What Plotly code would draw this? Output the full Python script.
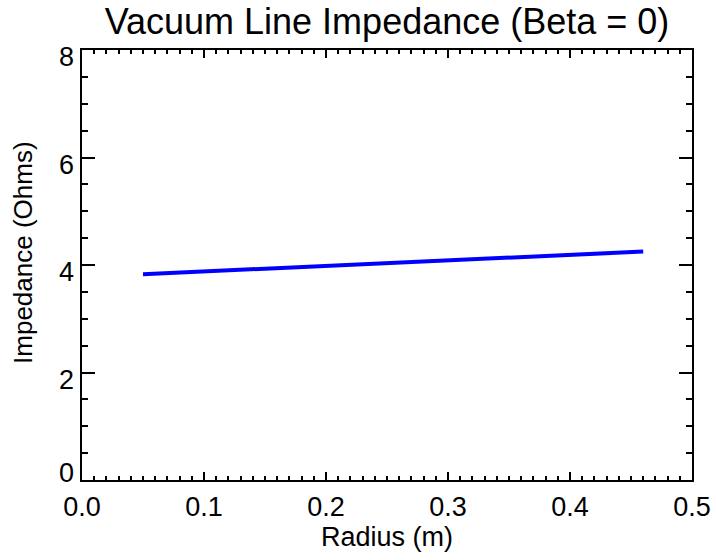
import plotly.graph_objects as go

radius = [0.05, 0.46]
impedance = [3.83, 4.25]

x_tickvals = [0.0, 0.1, 0.2, 0.3, 0.4, 0.5]
x_ticktext = ["0.0", "0.1", "0.2", "0.3", "0.4", "0.5"]
y_tickvals = [0, 2, 4, 6, 8]
y_ticktext = ["0", "2", "4", "6", "8"]

fig = go.Figure()
fig.add_trace(go.Scatter(x=radius, y=impedance, mode="lines",
                         line=dict(color="#0000ff", width=4), showlegend=False))

font = "Liberation Sans, Arial, sans-serif"
axis_common = dict(showline=True, linecolor="black", linewidth=2, mirror="allticks",
                   ticks="inside", tickcolor="black", tickwidth=2,
                   showgrid=False, zeroline=False,
                   tickfont=dict(family=font, size=27, color="black"))

fig.update_xaxes(range=[0, 0.5], tickvals=x_tickvals, ticktext=x_ticktext, ticklen=8,
                 ticklabelstandoff=2,
                 title=dict(text="Radius (m)", font=dict(family=font, size=27, color="black"), standoff=6),
                 minor=dict(dtick=0.01, ticks="inside", ticklen=4, tickwidth=2, tickcolor="black"),
                 **axis_common)
fig.update_yaxes(range=[0, 8], tickvals=y_tickvals, ticktext=y_ticktext, ticklen=13,
                 showticklabels=False,
                 minor=dict(dtick=0.5, ticks="inside", ticklen=6, tickwidth=2, tickcolor="black"),
                 **axis_common)

# y tick labels placed at their data values (IDL-style vertical offset)
for v, t in zip(y_tickvals, y_ticktext):
    fig.add_annotation(x=0, xref="paper", y=v, yref="y", text=t, showarrow=False,
                       xanchor="right", yanchor="middle", xshift=-6,
                       yshift=(7 if v == 0 else -7),
                       font=dict(family=font, size=27, color="black"))

# y axis title
fig.add_annotation(x=0, xref="paper", y=0.528, yref="paper", text="Impedance (Ohms)",
                   textangle=-90, showarrow=False, xanchor="center", yanchor="middle",
                   xshift=-59, font=dict(family=font, size=26, color="black"))

fig.update_layout(
    width=716, height=560,
    plot_bgcolor="white", paper_bgcolor="white",
    margin=dict(l=82, r=24, t=50, b=80, autoexpand=False),
    title=dict(text="Vacuum Line Impedance (Beta = 0)", x=(82 + 305) / 716, xanchor="center",
               y=1 - 21 / 560, yanchor="middle",
               font=dict(family=font, size=36, color="black")),
)
fig.write_html("out.html", config={"displayModeBar": False},
               post_script="document.body.style.margin='0';")
